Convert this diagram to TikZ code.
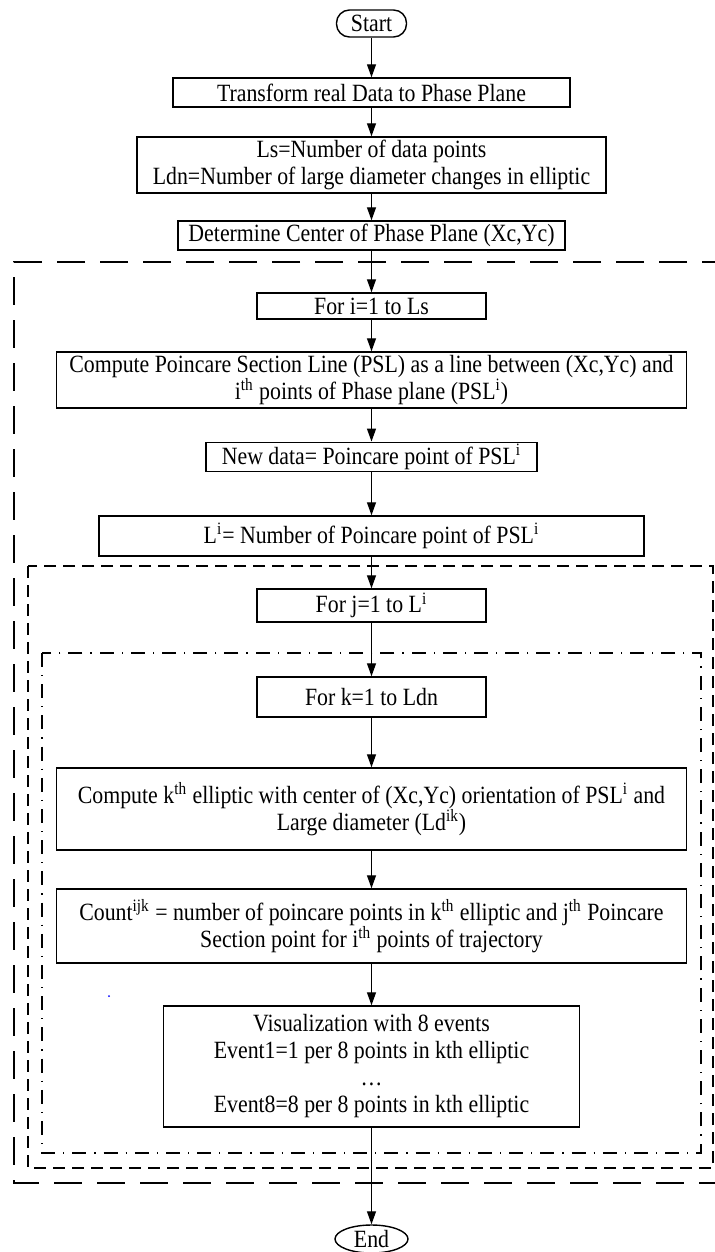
\documentclass[tikz,border=0pt]{standalone}
\usepackage{fontspec}
\setmainfont{Liberation Serif}[FakeStretch=0.88]
\usetikzlibrary{arrows.meta,shapes.geometric}

\begin{document}
\begin{tikzpicture}[x=0.5pt, y=-0.5pt, font=\fontsize{12.4}{13.5}\selectfont,
  box/.style={rectangle, draw=black, line width=0.7pt, inner sep=1pt, align=center},
  arr/.style={-{Triangle[length=6.5pt,width=4.5pt]}, line width=0.6pt}]

\path [use as bounding box] (0,0) rectangle (715,1252);

% loop frames
\draw [line width=0.9pt, dash pattern=on 14pt off 7.5pt] (730,262) -- (14,262) -- (14,1183) -- (730,1183);
\draw [line width=0.75pt, dash pattern=on 6pt off 3.5pt] (28,566) rectangle (713,1168);
\draw [line width=0.7pt, dash pattern=on 7pt off 4pt on 0.6pt off 4pt] (42,653) rectangle (701,1153);

\node [box, rounded corners=6.5pt, minimum width=35pt, minimum height=13.5pt, inner sep=0pt] (st) at (371.5,23.5) {Start};

\node [box, minimum width=198.5pt, minimum height=14.5pt] (tr) at (371.5,92.5) {Transform real Data to Phase Plane};

\node [box, minimum width=234.5pt, minimum height=28pt] (ls) at (371.5,165) {Ls=Number of data points\\
Ldn=Number of  large diameter changes in elliptic};

\node [box, minimum width=193.5pt, minimum height=14.5pt] (cp) at (371.5,235.5) {Determine Center of Phase Plane (Xc,Yc)};

\node [box, minimum width=114.5pt, minimum height=13pt] (fi) at (371.5,306) {For i=1 to Ls};

\node [box, minimum width=315pt, minimum height=28pt] (psl) at (371.5,380) {Compute Poincare Section Line (PSL) as a line between (Xc,Yc) and\\
i\textsuperscript{th} points of Phase plane (PSL\textsuperscript{i})};

\node [box, minimum width=165.5pt, minimum height=14pt] (nd) at (371.5,457) {New data= Poincare point of PSL\textsuperscript{i}};

\node [box, minimum width=272.5pt, minimum height=20pt] (li) at (371.5,536) {L\textsuperscript{i}= Number of Poincare point of PSL\textsuperscript{i}};

\node [box, minimum width=114.5pt, minimum height=16.5pt] (fj) at (371.5,605.5) {For j=1 to L\textsuperscript{i}};

\node [box, minimum width=114.5pt, minimum height=20pt] (fk) at (371.5,697) {For k=1 to Ldn};

\node [box, minimum width=315pt, minimum height=41pt] (ek) at (371.5,809) {Compute k\textsuperscript{th} elliptic with center of (Xc,Yc) orientation of PSL\textsuperscript{i} and\\
Large diameter (Ld\textsuperscript{ik})};

\node [box, minimum width=315pt, minimum height=37pt] (cn) at (371.5,926) {Count\textsuperscript{ijk} = number of poincare points in k\textsuperscript{th} elliptic and j\textsuperscript{th} Poincare\\
Section point for i\textsuperscript{th} points of trajectory};

\node [box, minimum width=208pt, minimum height=60.5pt] (vi) at (371.5,1066.5) {Visualization with 8 events\\
Event1=1 per 8 points in kth elliptic\\
\dots\\
Event8=8 per 8 points in kth elliptic};

\node [ellipse, draw=black, line width=0.7pt, minimum width=36.5pt, minimum height=14pt, inner sep=0pt] (en) at (371.5,1239) {End};

\fill [blue] (109,996) circle (0.5pt);

\draw [arr] (st) -- (tr);
\draw [arr] (tr) -- (ls);
\draw [arr] (ls) -- (cp);
\draw [arr] (cp) -- (fi);
\draw [arr] (fi) -- (psl);
\draw [arr] (psl) -- (nd);
\draw [arr] (nd) -- (li);
\draw [arr] (li) -- (fj);
\draw [arr] (fj) -- (fk);
\draw [arr] (fk) -- (ek);
\draw [arr] (ek) -- (cn);
\draw [arr] (cn) -- (vi);
\draw [arr] (vi) -- (en);

\end{tikzpicture}
\end{document}
